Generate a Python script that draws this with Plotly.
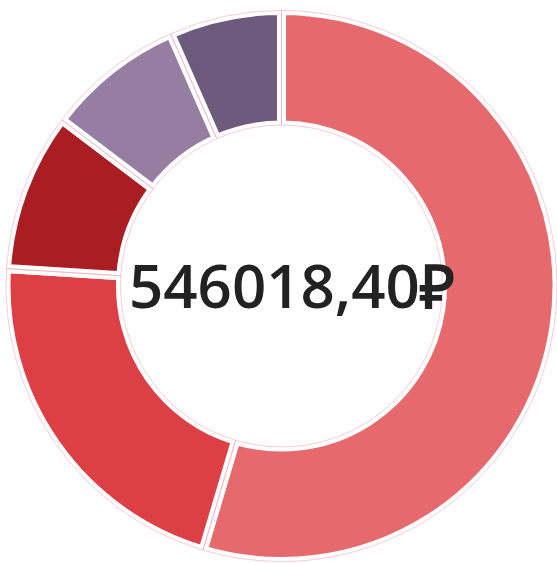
import plotly.graph_objects as go

categories = ["Категория 1", "Категория 2", "Категория 3", "Категория 4", "Категория 5"]
values = [298100, 116900, 50800, 44200, 36000]
colors = ["#e66a6d", "#dc3f44", "#aa1e23", "#957ea2", "#6e5a7c"]
total_label = "546018,40₽"

W, H = 557, 563
CX, CY, R = 281.5, 286.0, 275.5
dom = dict(x=[(CX - R) / W, min(1.0, (CX + R) / W)],
           y=[max(0.0, 1 - (CY + R) / H), 1 - (CY - R) / H])
HOLE = 161.0 / R

fig = go.Figure()
fig.add_trace(go.Pie(
    labels=categories, values=values, hole=HOLE, sort=False,
    direction="clockwise", rotation=0,
    marker=dict(colors=colors, line=dict(color="white", width=9)),
    textinfo="none", hoverinfo="skip", showlegend=False, domain=dom,
))
fig.add_trace(go.Pie(
    labels=categories, values=values, hole=HOLE, sort=False,
    direction="clockwise", rotation=0,
    marker=dict(colors=["rgba(0,0,0,0)"] * len(values),
                line=dict(color="rgba(235,150,165,0.6)", width=0.8)),
    textinfo="none", hoverinfo="skip", showlegend=False, domain=dom,
))
fig.add_annotation(
    text=total_label, x=292 / W, y=1 - 285 / H, xref="paper", yref="paper",
    xanchor="center", yanchor="middle", showarrow=False,
    font=dict(family="Open Sans", size=60, color="#222222", weight=600),
)
fig.update_layout(
    width=W, height=H, margin=dict(l=0, r=0, t=0, b=0),
    paper_bgcolor="white", plot_bgcolor="white",
)
fig.write_html(
    "out.html",
    config={"displayModeBar": False},
    post_script="document.body.style.margin='0';document.body.style.padding='0';",
)
